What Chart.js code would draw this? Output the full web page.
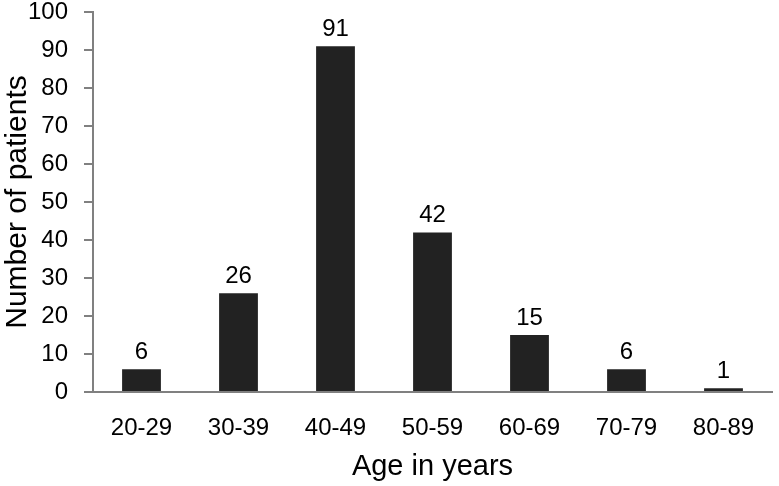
<!DOCTYPE html>
<html>
<head>
<meta charset="utf-8">
<script src="https://cdn.jsdelivr.net/npm/chart.js@4"></script>
<style>
  html, body { margin: 0; padding: 0; background: #fff; }
  #wrap { width: 779px; height: 486px; }
</style>
</head>
<body>
<div id="wrap"><canvas id="chart"></canvas></div>
<script>
const ageGroups = ['20-29', '30-39', '40-49', '50-59', '60-69', '70-79', '80-89'];
const patients = [6, 26, 91, 42, 15, 6, 1];
const yTicks = [0, 10, 20, 30, 40, 50, 60, 70, 80, 90, 100];

const FONT = '"Liberation Sans", Arial, sans-serif';
const AXIS_GREY = '#808080';

// draws the value above each bar
const barValues = {
  id: 'barValues',
  afterDatasetsDraw(chart) {
    const ctx = chart.ctx;
    const meta = chart.getDatasetMeta(0);
    ctx.save();
    ctx.font = '24px ' + FONT;
    ctx.fillStyle = '#000';
    ctx.textAlign = 'center';
    ctx.textBaseline = 'alphabetic';
    meta.data.forEach((bar, i) => {
      ctx.fillText(String(patients[i]), bar.x, bar.y - 10);
    });
    ctx.restore();
  }
};

new Chart(document.getElementById('chart'), {
  type: 'bar',
  data: {
    labels: ageGroups,
    datasets: [{
      data: patients,
      backgroundColor: '#222222',
      categoryPercentage: 1,
      barPercentage: 0.4
    }]
  },
  options: {
    responsive: true,
    maintainAspectRatio: false,
    animation: false,
    layout: { padding: { top: 0, right: 7, bottom: 0, left: 0 } },
    plugins: {
      legend: { display: false },
      tooltip: { enabled: false }
    },
    scales: {
      x: {
        grid: { drawOnChartArea: false, drawTicks: false, color: 'transparent' },
        border: { display: true, color: AXIS_GREY, width: 2 },
        ticks: {
          color: '#000',
          font: { family: FONT, size: 24, lineHeight: 1.2 },
          padding: 22
        },
        title: {
          display: true,
          text: 'Age in years',
          color: '#000',
          font: { family: FONT, size: 29 },
          padding: { top: 2, bottom: 2 }
        },
        afterFit(scale) { scale.height = 94; }
      },
      y: {
        min: 0,
        max: 100,
        afterBuildTicks(scale) {
          scale.ticks = yTicks.map(v => ({ value: v }));
        },
        grid: {
          drawOnChartArea: false,
          drawTicks: true,
          tickLength: 9,
          color: AXIS_GREY,
          lineWidth: 2
        },
        border: { display: true, color: AXIS_GREY, width: 2 },
        ticks: {
          color: '#000',
          font: { family: FONT, size: 24, lineHeight: 1 },
          padding: 16
        },
        title: {
          display: true,
          text: 'Number of patients',
          color: '#000',
          font: { family: FONT, size: 30 },
          padding: 0
        },
        afterFit(scale) {
          scale.width = 93;
          scale.paddingTop = 12;
          scale.paddingBottom = 12;
        }
      }
    }
  },
  plugins: [barValues]
});
</script>
</body>
</html>
